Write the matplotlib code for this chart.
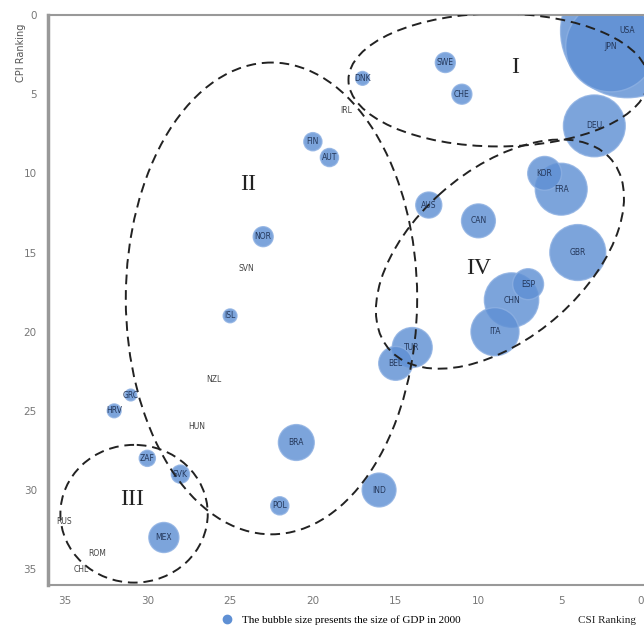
import numpy as np
import matplotlib
matplotlib.use("Agg")
import matplotlib.pyplot as plt
from matplotlib.patches import Ellipse
from matplotlib.lines import Line2D

# countries with a GDP bubble: CSI rank (x), CPI rank (y), GDP 2000 (trillion USD)
bub_labels = ["USA", "JPN", "DEU", "GBR", "FRA", "CHN", "ITA", "KOR", "CAN", "ESP",
              "AUS", "TUR", "BEL", "BRA", "IND", "MEX", "NOR", "SWE", "CHE", "DNK",
              "FIN", "AUT", "ISL", "GRC", "HRV", "ZAF", "SVK", "POL"]
bub_csi = [1, 2, 3, 4, 5, 8, 9, 6, 10, 7,
           13, 14, 15, 21, 16, 29, 23, 12, 11, 17,
           20, 19, 25, 31, 32, 30, 28, 22]
bub_cpi = [1, 2, 7, 15, 11, 18, 20, 10, 13, 17,
           12, 21, 22, 27, 30, 33, 14, 3, 5, 4,
           8, 9, 19, 24, 25, 28, 29, 31]
bub_gdp = [10.3, 4.7, 2.2, 1.8, 1.55, 1.7, 1.33, 0.66, 0.66, 0.55,
           0.39, 0.92, 0.66, 0.74, 0.66, 0.52, 0.23, 0.23, 0.23, 0.11,
           0.19, 0.19, 0.11, 0.08, 0.11, 0.15, 0.19, 0.19]

# countries shown as text only
txt_labels = ["IRL", "SVN", "NZL", "HUN", "RUS", "ROM", "CHL"]
txt_csi = [18, 24, 26, 27, 35, 33, 34]
txt_cpi = [6, 16, 23, 26, 32, 34, 35]

# cluster groups
grp_names = ["I", "II", "III", "IV"]
grp_pos = [(7.8, 3.3), (23.9, 10.7), (30.9, 30.6), (10.0, 16.0)]

blue = "#5f90d4"
serif = ["Liberation Serif", "DejaVu Serif"]

fig = plt.figure(figsize=(6.44, 6.27), dpi=100)
ax = fig.add_axes([0.0745, 0.067, 0.9255, 0.909])

ax.scatter(bub_csi, bub_cpi, s=np.array(bub_gdp) * 900, color=blue, alpha=0.82,
           edgecolors="#8db0e2", linewidths=1.0, zorder=2)
for lab, x, y in zip(bub_labels, bub_csi, bub_cpi):
    ax.text(x, y, lab, fontsize=5.5, color="#24375a", ha="center", va="center", zorder=4)
for lab, x, y in zip(txt_labels, txt_csi, txt_cpi):
    ax.text(x, y, lab, fontsize=5.5, color="#444444", ha="center", va="center", zorder=4)

# dashed cluster outlines
ell_kw = dict(fill=False, ls=(0, (5, 3)), lw=1.4, ec="#222222", zorder=3)
ax.add_patch(Ellipse((8.8, 4.1), 18.1, 8.4, **ell_kw))
ax.add_patch(Ellipse((22.5, 17.9), 17.6, 29.8, **ell_kw))
ax.add_patch(Ellipse((30.8, 31.5), 8.9, 8.7, **ell_kw))
ax.add_patch(Ellipse((8.7, 15.1), 18.0, 10.5, angle=43, **ell_kw))

for name, (x, y) in zip(grp_names, grp_pos):
    ax.text(x, y, name, fontsize=17, family=serif, color="#222222",
            ha="center", va="center", zorder=5)

ax.set_xlim(36, 0)
ax.set_ylim(36, 0)
ax.set_xticks([35, 30, 25, 20, 15, 10, 5, 0])
ax.set_yticks([0, 5, 10, 15, 20, 25, 30, 35])
ax.tick_params(length=0, labelsize=7.5, labelcolor="#777777", pad=8)
ax.get_xticklabels()[-1].set_horizontalalignment("right")
ax.spines["right"].set_visible(False)
ax.spines["left"].set_color("#999999")
ax.spines["left"].set_linewidth(2.5)
for s in ["top", "bottom"]:
    ax.spines[s].set_color("#999999")
    ax.spines[s].set_linewidth(1.5)

fig.text(0.033, 0.915, "CPI Ranking", rotation=90, fontsize=7, color="#555555",
         ha="center", va="center")
fig.text(0.897, 0.011, "CSI Ranking", fontsize=8, family=serif, color="#222222",
         ha="left", va="center")
fig.legend(handles=[Line2D([], [], marker="o", ls="", color=blue, markersize=6)],
           labels=["The bubble size presents the size of GDP in 2000"],
           loc="center left", bbox_to_anchor=(0.32, 0.011), frameon=False,
           handletextpad=0.3, prop={"family": serif, "size": 8})

fig.savefig("out.png", dpi=100)
